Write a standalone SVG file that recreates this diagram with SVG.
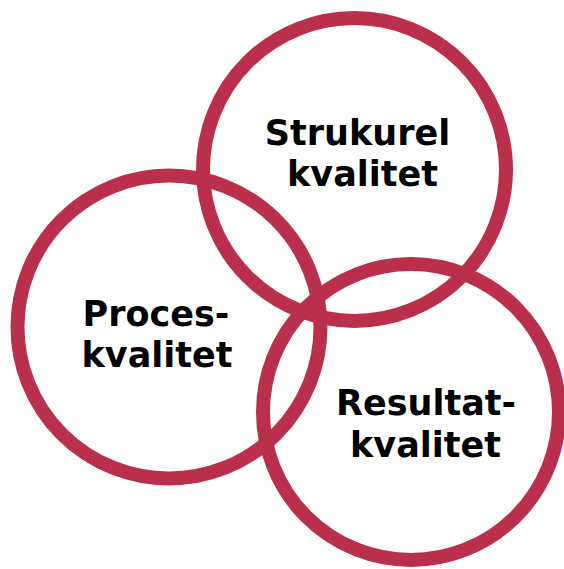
<svg xmlns="http://www.w3.org/2000/svg" width="564" height="569" viewBox="0 0 564 569">
<style>
.c{fill:none;stroke:#BA304C;stroke-width:14}
.t{font-family:"DejaVu Sans",Verdana,sans-serif;font-weight:bold;font-size:35px;fill:#000;text-anchor:middle}
</style>
<rect width="564" height="569" fill="#fff"/>
<g id="strukturel">
<circle class="c" cx="354.5" cy="169.5" r="151.5"/>
<text class="t" x="357.5" y="145">Strukurel</text>
<text class="t" x="362.5" y="186">kvalitet</text>
</g>
<g id="proces">
<circle class="c" cx="169" cy="327" r="151.5"/>
<text class="t" x="156" y="326">Proces-</text>
<text class="t" x="157" y="367">kvalitet</text>
</g>
<g id="resultat">
<circle class="c" cx="411" cy="412" r="148"/>
<text class="t" x="426" y="415">Resultat-</text>
<text class="t" x="425.5" y="457">kvalitet</text>
</g>
<g id="connectors"/>
</svg>
